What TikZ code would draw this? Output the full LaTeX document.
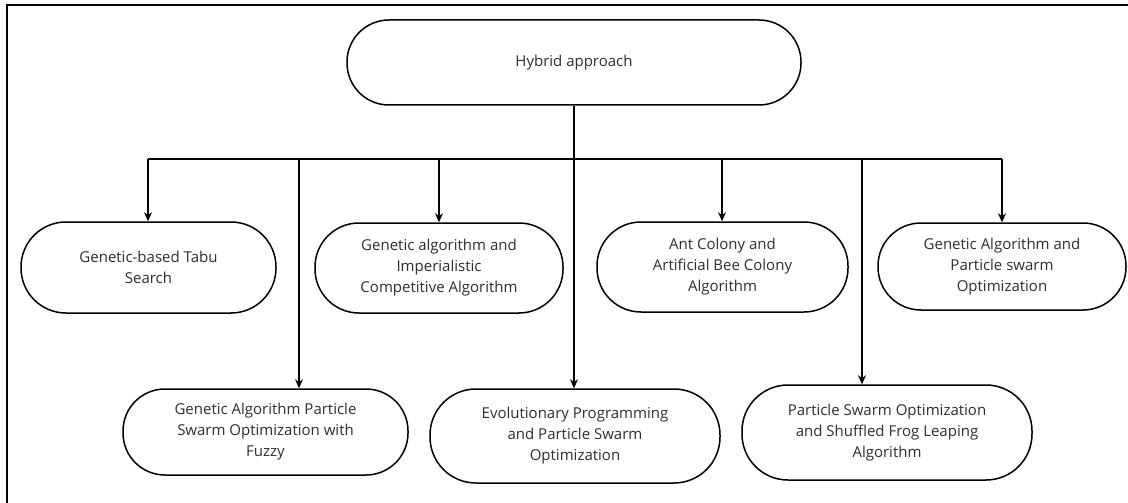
\documentclass[tikz,border=0pt]{standalone}
\usepackage{fontspec}
\setmainfont{Open Sans}
\usetikzlibrary{arrows.meta}
\definecolor{txt}{HTML}{2E2E2E}
\begin{document}
\begin{tikzpicture}[x=1pt,y=-1pt,
  pill/.style={draw=black,line width=1.5pt,fill=white,inner sep=0pt,
    align=center,text=txt,font=\fontsize{15}{21}\selectfont},
  link/.style={line width=1.4pt,draw=black},
  arr/.style={link,-{Stealth[length=9pt,width=8pt]}}]
\useasboundingbox (0,0) rectangle (1128,503);
% outer frame (top and left edges)
\draw[line width=1.6pt] (7,503) -- (7,5) -- (1128,5);

% root
\node[pill,minimum width=454pt,minimum height=85pt,rounded corners=42pt] (root) at (574,62.5) {Hybrid approach};

% upper row
\node[pill,minimum width=255pt,minimum height=91pt,rounded corners=45pt] (tabu) at (148.5,267.5) {Genetic-based Tabu\\Search};
\node[pill,minimum width=248pt,minimum height=90pt,rounded corners=44pt] (gaica) at (439,268) {Genetic algorithm and\\Imperialistic\\Competitive Algorithm};
\node[pill,minimum width=251pt,minimum height=90pt,rounded corners=44pt] (ant) at (722.5,267) {Ant Colony and\\Artificial Bee Colony\\Algorithm};
\node[pill,minimum width=248pt,minimum height=87pt,rounded corners=43pt] (gapso) at (1002,266.5) {Genetic Algorithm and\\Particle swarm\\Optimization};

% lower row
\node[pill,minimum width=285pt,minimum height=86pt,rounded corners=42pt] (fuzzy) at (265.5,432) {Genetic Algorithm Particle\\Swarm Optimization with\\Fuzzy};
\node[pill,minimum width=290pt,minimum height=94pt,rounded corners=46pt] (eppso) at (575,436) {Evolutionary Programming\\and Particle Swarm\\Optimization};
\node[pill,minimum width=290pt,minimum height=95pt,rounded corners=46pt] (sfla) at (887,432.5) {Particle Swarm Optimization\\and Shuffled Frog Leaping\\Algorithm};

% bus
\coordinate (hub) at (574,159);
\coordinate (d1) at (148,159);
\coordinate (d2) at (299,159);
\coordinate (d3) at (439,159);
\coordinate (d4) at (574,159);
\coordinate (d5) at (722,159);
\coordinate (d6) at (862,159);
\coordinate (d7) at (1002,159);

\draw[link] (root.south) -- (hub);
\draw[link] (d1) -- (d7);
\draw[arr] (d1) -- (d1 |- tabu.north);
\draw[arr] (d2) -- (d2 |- fuzzy.north);
\draw[arr] (d3) -- (d3 |- gaica.north);
\draw[arr] (d4) -- (d4 |- eppso.north);
\draw[arr] (d5) -- (d5 |- ant.north);
\draw[arr] (d6) -- (d6 |- sfla.north);
\draw[arr] (d7) -- (d7 |- gapso.north);
\end{tikzpicture}
\end{document}
